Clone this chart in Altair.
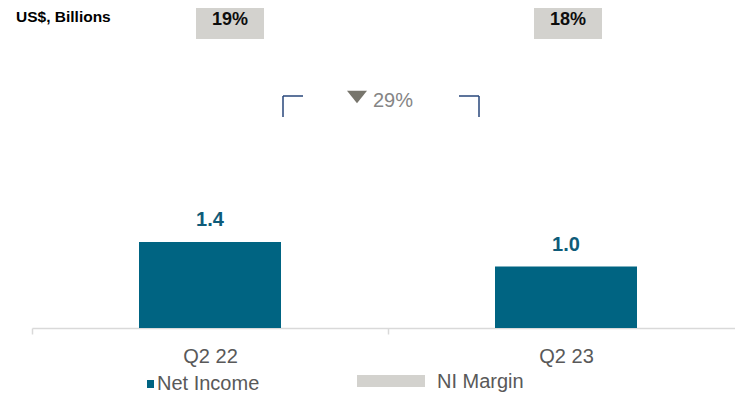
import altair as alt
import pandas as pd

quarters = ["Q2 22", "Q2 23"]
net_income = [1.4, 1.0]
ni_margin_labels = ["19%", "18%"]
change_label = "29%"
unit_label = "US$, Billions"
legend_labels = ["Net Income", "NI Margin"]

FONT = "Liberation Sans"
TEAL = "#006482"
TEAL_TXT = "#0e5b79"
GREY_BOX = "#d3d2ce"
TXT_GREY = "#595959"

df = pd.DataFrame({
    "quarter": quarters,
    "ni": net_income,
    "ni_label": [f"{v:.1f}" for v in net_income],
    "margin": ni_margin_labels,
})
# offset of each margin box from its band's start (pixels)
df["box_dx"] = [198, 180]
one = pd.DataFrame({"k": [0]})

x = alt.X(
    "quarter:N", sort=quarters,
    scale=alt.Scale(paddingInner=0, paddingOuter=0),
    axis=alt.Axis(title=None, labelAngle=0, tickBand="extent",
                  domainColor="#d9d9d9", tickColor="#d9d9d9", domainWidth=1.5,
                  tickWidth=1.5, tickSize=6, labelFont=FONT, labelFontSize=20,
                  labelColor=TXT_GREY, labelBaseline="alphabetic", labelPadding=28),
)
y = alt.Y("ni:Q", scale=alt.Scale(domain=[0, 5.21]), axis=None)

base = alt.Chart(df)
bars = base.mark_bar(width=142, color=TEAL).encode(x=x, y=y)
bar_labels = base.mark_text(dy=-16, baseline="alphabetic", font=FONT, fontSize=20,
                            fontWeight="bold", color=TEAL_TXT).encode(
    x=x, y=y, text="ni_label:N")

boxes = base.mark_bar(width=68, color=GREY_BOX).encode(
    x=x, xOffset=alt.XOffset("box_dx:Q", scale=None),
    y=alt.value(-8), y2=alt.value(31))
box_text = base.mark_text(baseline="alphabetic", font=FONT, fontSize=18,
                          fontWeight="bold", color="#0d0d0d").encode(
    x=x, xOffset=alt.XOffset("box_dx:Q", scale=None),
    y=alt.value(17), text="margin:N")

c = alt.Chart(one)
unit = c.mark_text(align="left", baseline="alphabetic", font=FONT, fontSize=15.5,
                   fontWeight="bold", color="#000000", text=unit_label).encode(
    x=alt.value(-16), y=alt.value(14))

BR = "#27467a"
br1 = c.mark_rule(color=BR, strokeWidth=1.5).encode(
    x=alt.value(251), x2=alt.value(271), y=alt.value(88))
br2 = c.mark_rule(color=BR, strokeWidth=1.5).encode(
    x=alt.value(251), y=alt.value(88), y2=alt.value(109))
br3 = c.mark_rule(color=BR, strokeWidth=1.5).encode(
    x=alt.value(427), x2=alt.value(447), y=alt.value(88))
br4 = c.mark_rule(color=BR, strokeWidth=1.5).encode(
    x=alt.value(447), y=alt.value(88), y2=alt.value(109))

tri = c.mark_point(shape="M-1,-0.625L1,-0.625L0,0.625Z", size=400, filled=True,
                   color="#77756c", opacity=1).encode(x=alt.value(325), y=alt.value(89))
chg = c.mark_text(align="left", baseline="alphabetic", font=FONT, fontSize=20,
                  color="#858585", text=change_label).encode(x=alt.value(341), y=alt.value(99))

leg1_sym = c.mark_rect(color=TEAL).encode(
    x=alt.value(115), x2=alt.value(122), y=alt.value(372), y2=alt.value(380))
leg1_txt = c.mark_text(align="left", baseline="alphabetic", font=FONT, fontSize=20,
                       color=TXT_GREY, text=legend_labels[0]).encode(
    x=alt.value(125), y=alt.value(382))
leg2_sym = c.mark_rect(color=GREY_BOX).encode(
    x=alt.value(325), x2=alt.value(393), y=alt.value(367), y2=alt.value(379))
leg2_txt = c.mark_text(align="left", baseline="alphabetic", font=FONT, fontSize=20,
                       color=TXT_GREY, text=legend_labels[1]).encode(
    x=alt.value(405), y=alt.value(380))

chart = alt.layer(
    boxes, box_text, bars, bar_labels, unit, br1, br2, br3, br4, tri, chg,
    leg1_sym, leg1_txt, leg2_sym, leg2_txt,
).properties(
    width=712, height=320,
    autosize=alt.AutoSizeParams(type="none"),
    padding={"left": 24, "top": 0, "right": -9, "bottom": 65},
).configure_view(stroke=None)

chart.save("out.html", embed_options={"renderer": "svg", "actions": False})
